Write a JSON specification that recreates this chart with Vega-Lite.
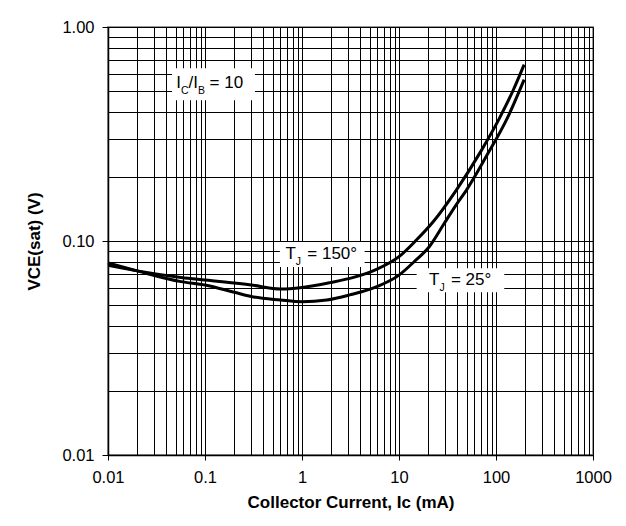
{
  "$schema": "https://vega.github.io/schema/vega-lite/v6.json",
  "width": 485,
  "height": 428,
  "autosize": {"type": "none"},
  "padding": {"left": 108, "top": 27, "right": 33, "bottom": 71},
  "background": "white",
  "config": {"view": {"stroke": "#999999", "strokeWidth": 2}, "font": "Liberation Sans"},
  "datasets": {
    "curves": [
      {"x": 0.01, "y": 0.077, "series": "150"},
      {"x": 0.02, "y": 0.0725, "series": "150"},
      {"x": 0.0566, "y": 0.0676, "series": "150"},
      {"x": 0.1, "y": 0.0657, "series": "150"},
      {"x": 0.3, "y": 0.0623, "series": "150"},
      {"x": 0.6, "y": 0.0597, "series": "150"},
      {"x": 1.0, "y": 0.0607, "series": "150"},
      {"x": 1.94, "y": 0.0639, "series": "150"},
      {"x": 3.4, "y": 0.0676, "series": "150"},
      {"x": 5.86, "y": 0.0737, "series": "150"},
      {"x": 10, "y": 0.0845, "series": "150"},
      {"x": 15.1, "y": 0.101, "series": "150"},
      {"x": 22.5, "y": 0.123, "series": "150"},
      {"x": 39, "y": 0.173, "series": "150"},
      {"x": 70, "y": 0.263, "series": "150"},
      {"x": 108, "y": 0.373, "series": "150"},
      {"x": 150, "y": 0.505, "series": "150"},
      {"x": 195, "y": 0.667, "series": "150"},
      {"x": 0.01, "y": 0.079, "series": "25"},
      {"x": 0.02, "y": 0.0725, "series": "25"},
      {"x": 0.0566, "y": 0.0646, "series": "25"},
      {"x": 0.1, "y": 0.0623, "series": "25"},
      {"x": 0.2, "y": 0.0576, "series": "25"},
      {"x": 0.3, "y": 0.055, "series": "25"},
      {"x": 0.6, "y": 0.053, "series": "25"},
      {"x": 1.0, "y": 0.052, "series": "25"},
      {"x": 1.8, "y": 0.053, "series": "25"},
      {"x": 3.1, "y": 0.056, "series": "25"},
      {"x": 5.9, "y": 0.0612, "series": "25"},
      {"x": 10, "y": 0.0693, "series": "25"},
      {"x": 14.3, "y": 0.08, "series": "25"},
      {"x": 20.5, "y": 0.094, "series": "25"},
      {"x": 29, "y": 0.12, "series": "25"},
      {"x": 39, "y": 0.148, "series": "25"},
      {"x": 49.6, "y": 0.173, "series": "25"},
      {"x": 80, "y": 0.25, "series": "25"},
      {"x": 130, "y": 0.373, "series": "25"},
      {"x": 195, "y": 0.568, "series": "25"}
    ],
    "notes": [
      {"x": 0.0567, "y": 0.521, "base": "I", "sub": "C", "rest": ""},
      {"x": 0.0848, "y": 0.521, "base": "/I", "sub": "B", "rest": "= 10"},
      {"x": 0.863, "y": 0.0828, "base": "T", "sub": "J", "rest": "= 150°"},
      {"x": 26.1, "y": 0.0621, "base": "T", "sub": "J", "rest": "= 25°"}
    ],
    "boxes": [
      {"x": 0.0458, "xe": 0.327, "y": 0.641, "ye": 0.4545},
      {"x": 0.592, "xe": 4.42, "y": 0.0989, "ye": 0.0756},
      {"x": 15.2, "xe": 121.7, "y": 0.0745, "ye": 0.0576}
    ]
  },
  "encoding": {
    "x": {
      "field": "x",
      "type": "quantitative",
      "scale": {"type": "log", "domain": [0.01, 1000], "nice": false},
      "axis": {
        "values": [0.01,0.02,0.03,0.04,0.05,0.06,0.07,0.08,0.09,0.1,0.2,0.3,0.4,0.5,0.6,0.7,0.8,0.9,1,2,3,4,5,6,7,8,9,10,20,30,40,50,60,70,80,90,100,200,300,400,500,600,700,800,900,1000],
        "grid": true,
        "gridColor": "#000000",
        "gridWidth": 1,
        "gridOpacity": 1,
        "domainColor": "#000000",
        "domainWidth": 1.5,
        "tickColor": "#000000",
        "tickSize": 5,
        "tickOpacity": {"condition": {"test": "abs(log(datum.value)/LN10 - round(log(datum.value)/LN10)) < 0.001", "value": 1}, "value": 0},
        "labelExpr": "abs(log(datum.value)/LN10 - round(log(datum.value)/LN10)) < 0.001 ? format(datum.value, '~g') : ''",
        "labelFont": "Liberation Sans",
        "labelFontSize": 16.5,
        "labelColor": "#000000",
        "labelPadding": 9,
        "labelOverlap": false,
        "labelFlush": false,
        "title": "Collector Current, Ic (mA)",
        "titleFont": "Liberation Sans",
        "titleFontSize": 17,
        "titleFontWeight": "bold",
        "titleColor": "#000000",
        "titlePadding": 9
      }
    },
    "y": {
      "field": "y",
      "type": "quantitative",
      "scale": {"type": "log", "domain": [0.01, 1], "nice": false},
      "axis": {
        "values": [0.01,0.02,0.03,0.04,0.05,0.06,0.07,0.08,0.09,0.1,0.2,0.3,0.4,0.5,0.6,0.7,0.8,0.9,1],
        "grid": true,
        "gridColor": "#000000",
        "gridWidth": 1,
        "gridOpacity": 1,
        "domainColor": "#000000",
        "domainWidth": 1.5,
        "tickColor": "#000000",
        "tickSize": 6,
        "tickOpacity": {"condition": {"test": "abs(log(datum.value)/LN10 - round(log(datum.value)/LN10)) < 0.001", "value": 1}, "value": 0},
        "labelExpr": "abs(log(datum.value)/LN10 - round(log(datum.value)/LN10)) < 0.001 ? format(datum.value, '.2f') : ''",
        "labelFont": "Liberation Sans",
        "labelFontSize": 16.5,
        "labelColor": "#000000",
        "labelPadding": 8,
        "labelOverlap": false,
        "labelFlush": false,
        "title": "VCE(sat) (V)",
        "titleFont": "Liberation Sans",
        "titleFontSize": 17,
        "titleFontWeight": "bold",
        "titleColor": "#000000",
        "titlePadding": 18
      }
    }
  },
  "layer": [
    {
      "data": {"name": "boxes"},
      "mark": {"type": "rect", "fill": "white", "stroke": null},
      "encoding": {"x2": {"field": "xe"}, "y2": {"field": "ye"}}
    },
    {
      "data": {"name": "curves"},
      "mark": {"type": "line", "color": "black", "strokeWidth": 3, "interpolate": "monotone"},
      "encoding": {"detail": {"field": "series"}}
    },
    {
      "data": {"name": "notes"},
      "mark": {"type": "text", "align": "right", "baseline": "alphabetic", "font": "Liberation Sans", "fontSize": 17, "color": "black"},
      "encoding": {"text": {"field": "base"}}
    },
    {
      "data": {"name": "notes"},
      "mark": {"type": "text", "align": "left", "baseline": "alphabetic", "dy": 6, "font": "Liberation Sans", "fontSize": 10.5, "color": "black"},
      "encoding": {"text": {"field": "sub"}}
    },
    {
      "data": {"name": "notes"},
      "mark": {"type": "text", "align": "left", "baseline": "alphabetic", "dx": 11.5, "font": "Liberation Sans", "fontSize": 17, "color": "black"},
      "encoding": {"text": {"field": "rest"}}
    }
  ]
}
